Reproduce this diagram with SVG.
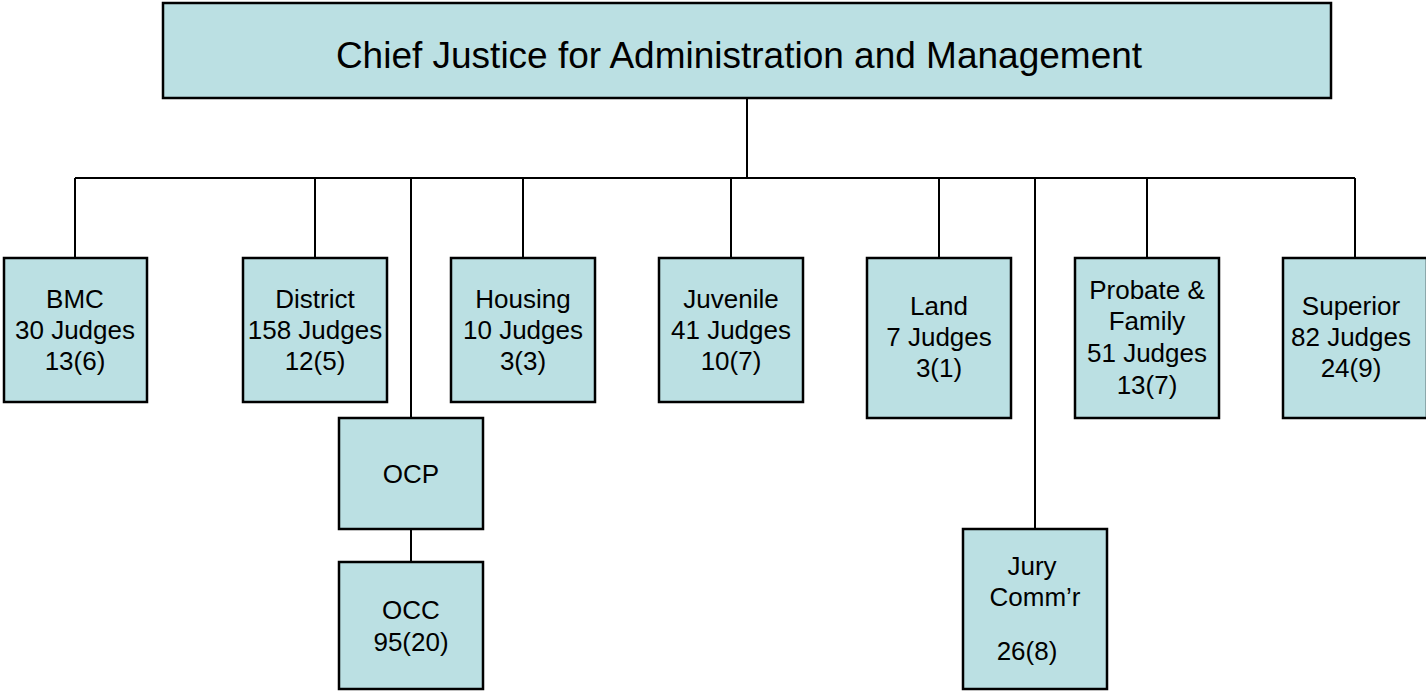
<svg xmlns="http://www.w3.org/2000/svg" width="1426" height="692" viewBox="0 0 1426 692">
<style>
.box{fill:#BBE0E3;stroke:#000;stroke-width:2.5}
.t{font-family:"Liberation Sans",Arial,sans-serif;font-size:26px;fill:#000;text-anchor:middle}
.title{font-size:37px}
.c{fill:none;stroke:#000;stroke-width:2}
</style>
<rect width="1426" height="692" fill="#fff"/>
<g id="connectors">
<path class="c" d="M747 98V178M75 178H1355M75 178V258M315 178V258M411 178V418M523 178V258M731 178V258M939 178V258M1035 178V529M1147 178V258M1355 178V258M411 529V562"/>
</g>
<g id="chief">
<rect class="box" x="163" y="3" width="1168" height="95"/>
<text class="t title" x="739" y="68">Chief Justice for Administration and Management</text>
</g>
<g id="bmc">
<rect class="box" x="4" y="258" width="143" height="144"/>
<text class="t" x="75" y="308">BMC</text>
<text class="t" x="75" y="339">30 Judges</text>
<text class="t" x="75" y="370">13(6)</text>
</g>
<g id="district">
<rect class="box" x="243" y="258" width="144" height="144"/>
<text class="t" x="315" y="308">District</text>
<text class="t" x="315" y="339">158 Judges</text>
<text class="t" x="315" y="370">12(5)</text>
</g>
<g id="housing">
<rect class="box" x="451" y="258" width="144" height="144"/>
<text class="t" x="523" y="308">Housing</text>
<text class="t" x="523" y="339">10 Judges</text>
<text class="t" x="523" y="370">3(3)</text>
</g>
<g id="juvenile">
<rect class="box" x="659" y="258" width="144" height="144"/>
<text class="t" x="731" y="308">Juvenile</text>
<text class="t" x="731" y="339">41 Judges</text>
<text class="t" x="731" y="370">10(7)</text>
</g>
<g id="land">
<rect class="box" x="867" y="258" width="144" height="160"/>
<text class="t" x="939" y="315">Land</text>
<text class="t" x="939" y="346">7 Judges</text>
<text class="t" x="939" y="377">3(1)</text>
</g>
<g id="probate">
<rect class="box" x="1075" y="258" width="144" height="160"/>
<text class="t" x="1147" y="299">Probate &amp;</text>
<text class="t" x="1147" y="330">Family</text>
<text class="t" x="1147" y="362">51 Judges</text>
<text class="t" x="1147" y="394">13(7)</text>
</g>
<g id="superior">
<rect class="box" x="1283" y="258" width="144" height="160"/>
<text class="t" x="1351" y="315">Superior</text>
<text class="t" x="1351" y="346">82 Judges</text>
<text class="t" x="1351" y="377">24(9)</text>
</g>
<g id="ocp">
<rect class="box" x="339" y="418" width="144" height="111"/>
<text class="t" x="411" y="483">OCP</text>
</g>
<g id="occ">
<rect class="box" x="339" y="562" width="144" height="127"/>
<text class="t" x="411" y="619">OCC</text>
<text class="t" x="411" y="651">95(20)</text>
</g>
<g id="jury">
<rect class="box" x="963" y="529" width="144" height="160"/>
<text class="t" x="1032" y="575">Jury</text>
<text class="t" x="1035" y="606">Comm’r</text>
<text class="t" x="1027" y="660">26(8)</text>
</g>
</svg>
